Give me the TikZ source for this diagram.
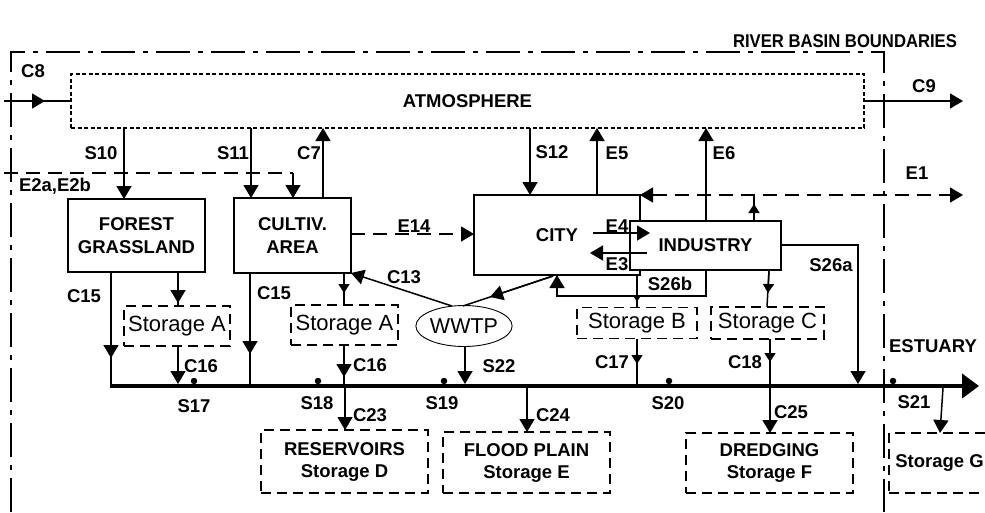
\documentclass[tikz,border=0pt]{standalone}
\usepackage{fontspec}
\setmainfont{Liberation Sans}
\usetikzlibrary{arrows.meta,shapes.geometric}
\begin{document}
\begin{tikzpicture}[x=1pt,y=-1pt,
  every node/.style={inner sep=0pt, outer sep=0pt},
  lab/.style={font=\bfseries\fontsize{18.5}{20}\selectfont},
  strongbox/.style={draw, line width=2.8pt, fill=white, align=center, font=\bfseries\fontsize{18.5}{23}\selectfont},
  storebox/.style={draw, line width=1.4pt, dash pattern=on 10pt off 6pt, fill=white, font=\fontsize{22}{24}\selectfont},
  bigstore/.style={draw, line width=1.4pt, dash pattern=on 10pt off 6pt, align=center, font=\bfseries\fontsize{18.5}{22}\selectfont},
  atmo/.style={draw, line width=1.4pt, dash pattern=on 4pt off 2.5pt, font=\bfseries\fontsize{18.5}{20}\selectfont},
  bnd/.style={line width=1.5pt, dash pattern=on 34pt off 8pt on 5pt off 8pt},
  ln/.style={line width=1.5pt},
  dln/.style={line width=1.5pt, dash pattern=on 14pt off 8pt},
  big/.style={-{Triangle[length=13pt,width=15pt]}},
  small/.style={-{Triangle[length=9pt,width=11pt]}},
  tiny/.style={-{Triangle[length=7pt,width=8pt]}},
  dot/.style={fill=black, circle, minimum size=6.5pt},
]
\useasboundingbox (0,0) rectangle (985,512);

% river basin boundary
\draw[bnd] (11,512) -- (11,52) -- (884,52) -- (884,512);
\node[font=\bfseries\fontsize{18.5}{20}\selectfont, xscale=0.9] (rbb) at (845,41) {RIVER BASIN BOUNDARIES};

% x positions
\coordinate (x10) at (124,0);
\coordinate (x11) at (251,0);
\coordinate (xc7) at (323,0);
\coordinate (x12) at (530,0);
\coordinate (xe5) at (597,0);
\coordinate (xe6) at (706,0);
\coordinate (xe1) at (754,0);
\coordinate (x15a) at (111,0);
\coordinate (xsa1) at (178,0);
\coordinate (x15b) at (250,0);
\coordinate (xsa2) at (344,0);
\coordinate (x22) at (465,0);
\coordinate (x24) at (527,0);
\coordinate (xsb) at (637,0);
\coordinate (xsc) at (769,0);
\coordinate (x26a) at (858,0);
\coordinate (x26b) at (557,0);

% boxes
\node[atmo, minimum width=793pt, minimum height=54pt] (atm) at (467.5,101) {ATMOSPHERE};
\node[strongbox, minimum width=137pt, minimum height=73pt] (forest) at (136.5,235.5) {FOREST\\GRASSLAND};
\node[strongbox, minimum width=117pt, minimum height=75pt] (cult) at (292.5,235.5) {CULTIV.\\AREA};
\node[strongbox, minimum width=166pt, minimum height=80pt] (city) at (557,235) {};
\node[lab] (cityt) at (557,235) {CITY};
\node[strongbox, minimum width=151pt, minimum height=49pt] (ind) at (705.5,245.5) {INDUSTRY};

\node[storebox, minimum width=106pt, minimum height=40pt] (sa1) at (177,326) {Storage A};
\node[storebox, minimum width=107pt, minimum height=40pt] (sa2) at (344.5,325) {Storage A};
\node[storebox, minimum width=120pt, minimum height=31pt] (sb) at (637,323) {Storage B};
\node[storebox, minimum width=113pt, minimum height=32pt] (sc) at (767.5,323) {Storage C};
\node[draw, ellipse, line width=0.9pt, minimum width=94pt, minimum height=41pt, font=\fontsize{21.5}{24}\selectfont] (wwtp) at (464,326) {WWTP};

\node[bigstore, minimum width=167pt, minimum height=63pt] (res) at (344.5,461.5) {RESERVOIRS\\Storage D};
\node[bigstore, minimum width=167pt, minimum height=61pt] (flood) at (526.5,462.5) {FLOOD PLAIN\\Storage E};
\node[bigstore, minimum width=167pt, minimum height=60pt] (dredg) at (769.5,463) {DREDGING\\Storage F};
\node[bigstore, minimum width=130pt, minimum height=60pt, anchor=west] (stg) at (889,463) {};
\node[font=\bfseries\fontsize{18.5}{22}\selectfont] (stgt) at (939.5,463) {Storage G};

% river
\coordinate (rs) at (110,386);
\coordinate (re) at (979,386);
\draw[line width=4.5pt, -{Triangle[length=17pt,width=24pt]}] (rs) -- (re);
\foreach \n/\x in {d17/194,d18/318,d19/444,d20/669,d21/893}
  \node[dot] (\n) at (\x,381) {};

% atmosphere connections
\coordinate (c8s) at (4,101);
\coordinate (c8m) at (45,101);
\coordinate (c9e) at (963,101);
\draw[ln] (c8s) -- (atm.west);
\draw[ln,big] (c8s) -- (c8m);
\draw[ln,big] (atm.east) -- (c9e);
\draw[ln,big] (x10 |- atm.south) -- (x10 |- forest.north);
\draw[ln,big] (x11 |- atm.south) -- (x11 |- cult.north);
\draw[ln,big] (xc7 |- cult.north) -- (xc7 |- atm.south);
\draw[ln,big] (x12 |- atm.south) -- (x12 |- city.north);
\draw[ln,big] (xe5 |- city.north) -- (xe5 |- atm.south);
\draw[ln,big] (xe6 |- ind.north) -- (xe6 |- atm.south);

% E2a,E2b
\coordinate (e2s) at (4,173);
\coordinate (e2c) at (293,173);
\draw[dln] (e2s) -- (e2c);
\draw[ln,big] (e2c) -- (e2c |- cult.north);

% E1
\coordinate (e1e) at (963,195);
\draw[dln, {Triangle[length=13pt,width=15pt]}-{Triangle[length=13pt,width=15pt]}] (city.north east) -- (e1e);
\coordinate (e1t) at (754,204);
\draw[ln] (xe1 |- ind.north) -- (xe1 |- city.north);
\draw[ln,small] (xe1 |- ind.north) -- (e1t);

% E14
\draw[dln,big] (cult.east |- 0,234) -- (city.west |- 0,234);

% E4 / E3
\coordinate (e4a) at (593,233);
\coordinate (e4b) at (650,233);
\coordinate (e3a) at (647,253);
\coordinate (e3b) at (590,253);
\draw[ln,big] (e4a) -- (e4b);
\draw[ln,big] (e3a) -- (e3b);

% forest flows
\coordinate (c15am) at (111,358);
\draw[ln] (x15a |- forest.south) -- (x15a |- rs);
\draw[ln,big] (x15a |- forest.south) -- (c15am);
\coordinate (sa1m) at (178,303);
\draw[ln] (xsa1 |- forest.south) -- (sa1.north -| xsa1);
\draw[ln,big] (xsa1 |- forest.south) -- (sa1m);
\coordinate (c16a) at (178,384);
\draw[ln,big] (sa1.south -| xsa1) -- (c16a);

% cultiv flows
\coordinate (c15bm) at (250,354);
\coordinate (c15be) at (250,384);
\draw[ln] (x15b |- cult.south) -- (c15be);
\draw[ln,big] (x15b |- cult.south) -- (c15bm);
\coordinate (sa2m) at (344,293);
\draw[ln] (xsa2 |- cult.south) -- (xsa2 |- sa2.north);
\draw[ln,small] (xsa2 |- cult.south) -- (sa2m);
\coordinate (c16bm) at (344,377);
\coordinate (c16be) at (344,384);
\draw[ln] (xsa2 |- sa2.south) -- (c16be);
\draw[ln,big] (xsa2 |- sa2.south) -- (c16bm);
\coordinate (c23s) at (345,388);
\draw[ln,big] (c23s) -- (c23s |- res.north);

% WWTP
\coordinate (wtop) at (452,306);
\draw[ln,big] (wtop) -- (cult.south east);
\coordinate (cwa) at (553,276);
\coordinate (cwb) at (463,306);
\coordinate (cwm) at (490,297);
\draw[ln] (cwa) -- (cwb);
\draw[ln,big] (cwa) -- (cwm);
\coordinate (s22e) at (465,384);
\draw[ln,big] (x22 |- wwtp.south) -- (s22e);
\coordinate (c24s) at (527,388);
\draw[ln,big] (c24s) -- (c24s |- flood.north);

% city / industry lower flows
\coordinate (sbm) at (637,302);
\draw[ln] (xsb |- city.south) -- (xsb |- sb.north);
\draw[ln,tiny] (xsb |- city.south) -- (sbm);
\coordinate (s26b1) at (706,296);
\coordinate (s26b2) at (557,296);
\draw[ln,big] (xe6 |- ind.south) -- (s26b1) -- (s26b2) -- (x26b |- city.south);
\coordinate (c17m) at (637,364);
\coordinate (c17e) at (637,384);
\draw[ln] (xsb |- sb.south) -- (c17e);
\draw[ln,small] (xsb |- sb.south) -- (c17m);
\coordinate (scm) at (768,293);
\draw[ln] (xsc |- ind.south) -- (767,307);
\draw[ln,small] (xsc |- ind.south) -- (scm);
\coordinate (c18s) at (770,339);
\coordinate (c18m) at (770,362);
\coordinate (c18e) at (770,384);
\draw[ln] (c18s) -- (c18e);
\draw[ln,small] (c18s) -- (c18m);
\coordinate (c25s) at (770,388);
\draw[ln,big] (c25s) -- (c25s |- dredg.north);
\coordinate (s26c) at (858,245);
\coordinate (s26e) at (858,384);
\draw[ln,big] (ind.east |- s26c) -- (s26c) -- (s26e);
\coordinate (s21s) at (943,388);
\coordinate (s21e) at (940,433);
\draw[ln,big] (s21s) -- (s21e);

% labels
\node[lab] (lc8) at (33,71) {C8};
\node[lab] (lc9) at (924,86) {C9};
\node[lab] (ls10) at (101,153) {S10};
\node[lab] (ls11) at (233,153) {S11};
\node[lab] (lc7) at (309,153) {C7};
\node[lab] (ls12) at (552,152) {S12};
\node[lab] (le5) at (617,153) {E5};
\node[lab] (le6) at (724,153) {E6};
\node[lab] (le1) at (917,173) {E1};
\node[lab] (le2) at (55,186) {E2a,E2b};
\node[lab] (le14) at (414,226) {E14};
\node[lab] (le4) at (617,226) {E4};
\node[lab] (le3) at (617,264) {E3};
\node[lab] (lc13) at (404,277) {C13};
\node[lab] (ls26b) at (670,284) {S26b};
\node[lab] (ls26a) at (831,265) {S26a};
\node[lab] (lc15a) at (84,296) {C15};
\node[lab] (lc15b) at (274,293) {C15};
\node[lab] (lc16a) at (201,366) {C16};
\node[lab] (lc16b) at (370,365) {C16};
\node[lab] (ls22) at (499,366) {S22};
\node[lab] (lc17) at (612,362) {C17};
\node[lab] (lc18) at (745,362) {C18};
\node[lab] (lest) at (933,346) {ESTUARY};
\node[lab] (ls17) at (194,406) {S17};
\node[lab] (ls18) at (317,403) {S18};
\node[lab] (ls19) at (442,403) {S19};
\node[lab] (ls20) at (668,403) {S20};
\node[lab] (ls21) at (914,402) {S21};
\node[lab] (lc23) at (370,415) {C23};
\node[lab] (lc24) at (553,415) {C24};
\node[lab] (lc25) at (791,412) {C25};
\end{tikzpicture}
\end{document}
